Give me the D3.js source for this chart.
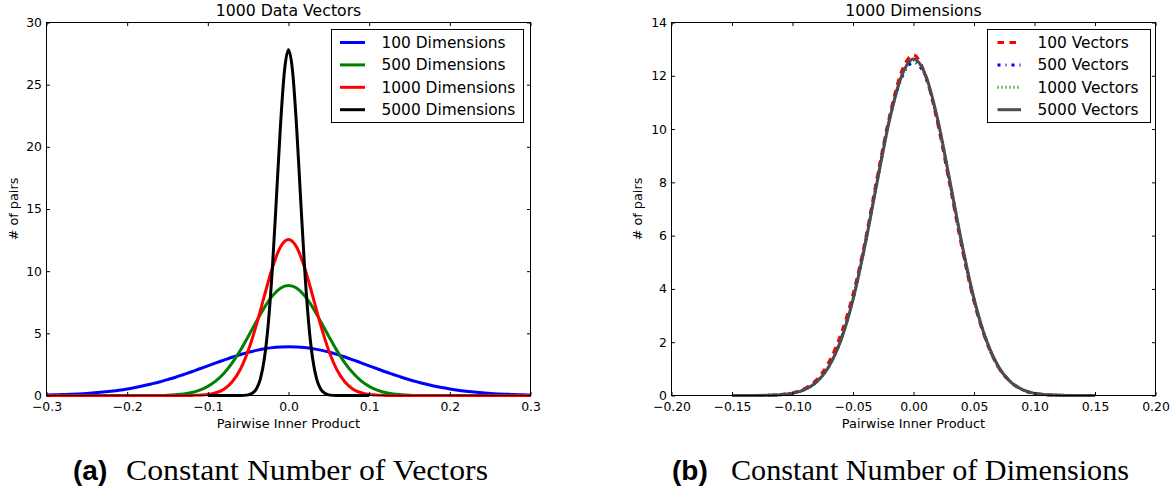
<!DOCTYPE html>
<html>
<head>
<meta charset="utf-8">
<script src="https://cdn.jsdelivr.net/npm/d3@7"></script>
<style>
  html, body { margin: 0; padding: 0; background: #fff; }
  svg { display: block; }
</style>
</head>
<body>
<svg id="chart" width="1175" height="495"></svg>
<script>
// ---------------- DATA ----------------
// Panel (a): 1000 data vectors, varying dimensions
const aTitle = "1000 Data Vectors";
const aXTicks = [-0.3, -0.2, -0.1, 0.0, 0.1, 0.2, 0.3];
const aXTickLabels = ["\u22120.3", "\u22120.2", "\u22120.1", "0.0", "0.1", "0.2", "0.3"];
const aYTicks = [0, 5, 10, 15, 20, 25, 30];
const aYTickLabels = ["0", "5", "10", "15", "20", "25", "30"];
const aSeriesNames = ["100 Dimensions", "500 Dimensions", "1000 Dimensions", "5000 Dimensions"];

const aX = [-0.30,-0.29,-0.28,-0.27,-0.26,-0.25,-0.24,-0.23,-0.22,-0.21,-0.20,-0.19,-0.18,-0.17,-0.16,-0.15,-0.14,-0.13,-0.12,-0.11,-0.10,-0.09,-0.08,-0.07,-0.06,-0.05,-0.04,-0.03,-0.02,-0.01,
  0.00,
  0.01,0.02,0.03,0.04,0.05,0.06,0.07,0.08,0.09,0.10,0.11,0.12,0.13,0.14,0.15,0.16,0.17,0.18,0.19,0.20,0.21,0.22,0.23,0.24,0.25,0.26,0.27,0.28,0.29,0.30];
const dim100 = [0.04,0.06,0.08,0.10,0.13,0.17,0.22,0.28,0.35,0.43,0.53,0.65,0.78,0.93,1.09,1.28,1.47,1.69,1.91,2.15,2.38,2.62,2.85,3.08,3.28,3.47,3.63,3.76,3.85,3.90,
  3.93,
  3.91,3.86,3.77,3.65,3.50,3.31,3.10,2.87,2.63,2.39,2.15,1.91,1.69,1.47,1.27,1.09,0.92,0.77,0.64,0.53,0.43,0.35,0.28,0.22,0.17,0.13,0.10,0.08,0.06,0.04];
const dim500 = [0,0,0,0,0,0,0,0,0,0,0,0,0,0,0.01,0.03,0.07,0.13,0.24,0.43,0.73,1.17,1.79,2.60,3.60,4.74,5.93,7.07,8.01,8.63,
  8.85,
  8.64,8.02,7.08,5.94,4.75,3.61,2.61,1.80,1.17,0.73,0.43,0.24,0.13,0.07,0.03,0.01,0,0,0,0,0,0,0,0,0,0,0,0,0,0];
const dim1000 = [0,0,0,0,0,0,0,0,0,0,0,0,0,0,0,0,0,0,0.01,0.03,0.08,0.22,0.51,1.08,2.07,3.60,5.64,8.00,10.27,11.94,
  12.55,
  11.94,10.27,8.00,5.64,3.60,2.07,1.08,0.51,0.22,0.08,0.03,0.01,0,0,0,0,0,0,0,0,0,0,0,0,0,0,0,0,0,0];
const aXFine = [-0.100,-0.095,-0.090,-0.085,-0.080,-0.075,-0.070,-0.065,-0.060,-0.055,-0.050,-0.045,-0.040,-0.035,-0.030,-0.025,-0.020,-0.015,-0.010,-0.005,
  0.000,
  0.005,0.010,0.015,0.020,0.025,0.030,0.035,0.040,0.045,0.050,0.055,0.060,0.065,0.070,0.075,0.080,0.085,0.090,0.095,0.100];
const dim5000 = [0,0,0,0,0,0,0,0,0,0.01,0.05,0.18,0.51,1.30,2.93,5.83,10.23,15.85,21.65,26.11,
  27.80,
  26.11,21.65,15.85,10.23,5.83,2.93,1.30,0.51,0.18,0.05,0.01,0,0,0,0,0,0,0,0,0];

// Panel (b): 1000 dimensions, varying number of vectors
const bTitle = "1000 Dimensions";
const bXTicks = [-0.20, -0.15, -0.10, -0.05, 0.00, 0.05, 0.10, 0.15, 0.20];
const bXTickLabels = ["\u22120.20", "\u22120.15", "\u22120.10", "\u22120.05", "0.00", "0.05", "0.10", "0.15", "0.20"];
const bYTicks = [0, 2, 4, 6, 8, 10, 12, 14];
const bYTickLabels = ["0", "2", "4", "6", "8", "10", "12", "14"];
const bSeriesNames = ["100 Vectors", "500 Vectors", "1000 Vectors", "5000 Vectors"];

const bX = [-0.15,-0.14,-0.13,-0.12,-0.11,-0.10,-0.09,-0.08,-0.07,-0.06,-0.05,-0.04,-0.03,-0.02,-0.01,
  0.00,
  0.01,0.02,0.03,0.04,0.05,0.06,0.07,0.08,0.09,0.10,0.11,0.12,0.13,0.14,0.15];
const vec100  = [0,0,0,0.01,0.04,0.10,0.26,0.60,1.25,2.30,3.80,5.80,8.20,10.45,12.15,12.78,12.00,10.20,7.90,5.55,3.52,2.05,1.07,0.52,0.22,0.09,0.03,0.01,0,0,0];
const vec500  = [0,0,0,0.01,0.03,0.09,0.23,0.52,1.10,2.10,3.62,5.70,8.07,10.35,11.90,12.50,11.95,10.30,8.01,5.64,3.60,2.09,1.08,0.52,0.21,0.08,0.03,0.01,0,0,0];
const vec1000 = [0,0,0,0.01,0.03,0.08,0.22,0.51,1.09,2.08,3.62,5.67,8.04,10.31,11.97,12.58,11.99,10.33,8.03,5.66,3.60,2.08,1.09,0.51,0.22,0.08,0.03,0.01,0,0,0];
const vec5000 = [0,0,0,0.01,0.03,0.08,0.22,0.51,1.08,2.07,3.60,5.65,8.02,10.31,11.97,12.63,12.02,10.36,8.07,5.70,3.64,2.10,1.10,0.52,0.22,0.08,0.03,0.01,0,0,0];

const xLabel = "Pairwise Inner Product";
const yLabel = "# of pairs";
const captionA = ["(a)", "Constant Number of Vectors"];
const captionB = ["(b)", "Constant Number of Dimensions"];

// ---------------- DRAW ----------------
const svg = d3.select("#chart");
const FONT = "DejaVu Sans, sans-serif";

function panel(cfg) {
  const x = d3.scaleLinear().domain(cfg.xDomain).range([cfg.left, cfg.right]);
  const y = d3.scaleLinear().domain(cfg.yDomain).range([cfg.bottom, cfg.top]);
  const g = svg.append("g");

  const line = d3.line().x(d => x(d[0])).y(d => y(d[1])).curve(d3.curveMonotoneX);
  cfg.series.forEach(s => {
    const pts = s.x.map((v, i) => [v, s.y[i]]);
    g.append("path").datum(pts)
      .attr("d", line)
      .attr("fill", "none")
      .attr("stroke", s.color)
      .attr("stroke-width", 3)
      .attr("stroke-linejoin", "round")
      .attr("stroke-linecap", "butt")
      .attr("stroke-dasharray", s.dash || null);
  });

  // axes (inward ticks on all four sides)
  const tl = 3.5;
  const fmtX = (d, i) => cfg.xTickLabels[i];
  const fmtY = (d, i) => cfg.yTickLabels[i];
  const bx = g.append("g").attr("transform", `translate(0,${cfg.bottom})`)
    .call(d3.axisBottom(x).tickValues(cfg.xTicks).tickFormat(fmtX).tickSize(-tl).tickPadding(6.5));
  const tx = g.append("g").attr("transform", `translate(0,${cfg.top})`)
    .call(d3.axisTop(x).tickValues(cfg.xTicks).tickFormat("").tickSize(-tl));
  const ly = g.append("g").attr("transform", `translate(${cfg.left},0)`)
    .call(d3.axisLeft(y).tickValues(cfg.yTicks).tickFormat(fmtY).tickSize(-tl).tickPadding(4.5));
  const ry = g.append("g").attr("transform", `translate(${cfg.right},0)`)
    .call(d3.axisRight(y).tickValues(cfg.yTicks).tickFormat("").tickSize(-tl));
  [bx, tx, ly, ry].forEach(a => {
    a.select(".domain").remove();
    a.selectAll(".tick line").attr("stroke", "#000").attr("stroke-width", 1);
    a.selectAll("text").attr("font-family", FONT).attr("font-size", "12.4px").attr("fill", "#000");
  });

  // frame
  g.append("rect")
    .attr("x", cfg.left).attr("y", cfg.top)
    .attr("width", cfg.right - cfg.left).attr("height", cfg.bottom - cfg.top)
    .attr("fill", "none").attr("stroke", "#000").attr("stroke-width", 1);

  // title & labels
  const cx = (cfg.left + cfg.right) / 2;
  g.append("text").attr("x", cx).attr("y", 16).attr("text-anchor", "middle")
    .attr("font-family", FONT).attr("font-size", "15.7px").text(cfg.title);
  g.append("text").attr("x", cx).attr("y", 427.5).attr("text-anchor", "middle")
    .attr("font-family", FONT).attr("font-size", "12.9px").text(xLabel);
  g.append("text").attr("transform", `translate(${cfg.yLabelX},${(cfg.top + cfg.bottom) / 2}) rotate(-90)`)
    .attr("text-anchor", "middle")
    .attr("font-family", FONT).attr("font-size", "12.8px").text(yLabel);

  // legend
  const L = cfg.legend;
  const lg = g.append("g");
  lg.append("rect").attr("x", L.x0).attr("y", L.y0).attr("width", L.x1 - L.x0).attr("height", L.y1 - L.y0)
    .attr("fill", "#fff").attr("stroke", "#000").attr("stroke-width", 1);
  cfg.series.forEach((s, i) => {
    const yy = L.firstY + i * L.step;
    lg.append("line").attr("x1", L.lx0).attr("x2", L.lx1).attr("y1", yy).attr("y2", yy)
      .attr("stroke", s.color).attr("stroke-width", 3).attr("stroke-dasharray", s.dash || null);
    lg.append("text").attr("x", L.tx).attr("y", yy).attr("dy", "0.36em")
      .attr("font-family", FONT).attr("font-size", "15.4px").text(s.name);
  });
}

panel({
  left: 46.5, right: 530.5, top: 22.5, bottom: 395.5,
  xDomain: [-0.3, 0.3], yDomain: [0, 30],
  xTicks: aXTicks, xTickLabels: aXTickLabels, yTicks: aYTicks, yTickLabels: aYTickLabels,
  title: aTitle, yLabelX: 17.5,
  series: [
    { name: aSeriesNames[0], x: aX, y: dim100, color: "#0000ff" },
    { name: aSeriesNames[1], x: aX, y: dim500, color: "#008000" },
    { name: aSeriesNames[2], x: aX, y: dim1000, color: "#ff0000" },
    { name: aSeriesNames[3], x: aXFine, y: dim5000, color: "#000000" }
  ],
  legend: { x0: 331.5, x1: 523.5, y0: 29.5, y1: 122.5, lx0: 340, lx1: 365, tx: 381.5, firstY: 42.5, step: 22.4 }
});

panel({
  left: 671.5, right: 1155.5, top: 22.5, bottom: 395.5,
  xDomain: [-0.2, 0.2], yDomain: [0, 14],
  xTicks: bXTicks, xTickLabels: bXTickLabels, yTicks: bYTicks, yTickLabels: bYTickLabels,
  title: bTitle, yLabelX: 641.5,
  series: [
    { name: bSeriesNames[0], x: bX, y: vec100, color: "#ff0000", dash: "6.5,5.5" },
    { name: bSeriesNames[1], x: bX, y: vec500, color: "#0000ff", dash: "3,5,1,5" },
    { name: bSeriesNames[2], x: bX, y: vec1000, color: "#008000", dash: "1,3" },
    { name: bSeriesNames[3], x: bX, y: vec5000, color: "#4d4d4d" }
  ],
  legend: { x0: 987.5, x1: 1150.5, y0: 29.5, y1: 122.5, lx0: 997.5, lx1: 1021, tx: 1037.5, firstY: 42.5, step: 22.4 }
});

// captions
function caption(parts, xBold, xText, textLen) {
  svg.append("text").attr("x", xBold).attr("y", 480)
    .attr("font-family", "Liberation Sans, Arial, sans-serif").attr("font-weight", "bold")
    .attr("font-size", "28px").text(parts[0]);
  svg.append("text").attr("x", xText).attr("y", 480)
    .attr("font-family", "Liberation Serif, Times New Roman, serif")
    .attr("font-size", "29px")
    .attr("textLength", textLen).attr("lengthAdjust", "spacingAndGlyphs")
    .text(parts[1]);
}
caption(captionA, 73, 126, 362);
caption(captionB, 672, 731, 398);
</script>
</body>
</html>
